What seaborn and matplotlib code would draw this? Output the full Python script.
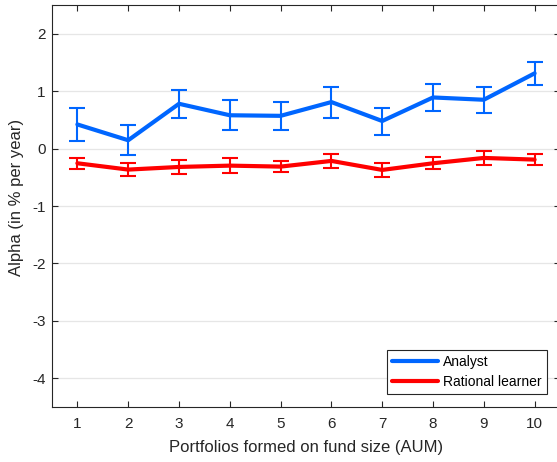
import matplotlib
matplotlib.use("Agg")
import matplotlib.pyplot as plt
import seaborn as sns
import pandas as pd

portfolios = [1, 2, 3, 4, 5, 6, 7, 8, 9, 10]
analyst = [0.42, 0.145, 0.78, 0.58, 0.57, 0.81, 0.48, 0.89, 0.85, 1.31]
analyst_err = [0.28, 0.265, 0.24, 0.26, 0.24, 0.27, 0.235, 0.235, 0.23, 0.195]
rational = [-0.256, -0.366, -0.32, -0.297, -0.314, -0.215, -0.372, -0.256, -0.163, -0.192]
rational_err = [0.093, 0.11, 0.115, 0.125, 0.09, 0.115, 0.12, 0.107, 0.128, 0.10]
yticks = [-4, -3, -2, -1, 0, 1, 2]

sns.set_theme(style="white")
plt.rcParams['font.family'] = ['Liberation Sans', 'DejaVu Sans']

blue = "#0066FF"
red = "#FF0000"
spine_c = "#262626"

fig = plt.figure(figsize=(5.57, 4.62), dpi=100)
ax = fig.add_axes([52/557, 55/462, 508/557, 402/462])

df = pd.DataFrame({
    "x": portfolios * 2,
    "y": analyst + rational,
    "series": ["Analyst"] * 10 + ["Rational learner"] * 10,
})
sns.lineplot(data=df, x="x", y="y", hue="series", palette=[blue, red],
             linewidth=3, ax=ax, legend=True)
ax.errorbar(portfolios, analyst, yerr=analyst_err, fmt="none", ecolor=blue,
            elinewidth=1.5, capsize=5.5, capthick=1.5, zorder=3)
ax.errorbar(portfolios, rational, yerr=rational_err, fmt="none", ecolor=red,
            elinewidth=1.5, capsize=5.5, capthick=1.5, zorder=3)

ax.set_xlim(0.5, 10.5)
ax.set_ylim(-4.5, 2.5)
ax.set_xticks(portfolios)
ax.set_yticks(yticks)
ax.set_xticklabels([str(p) for p in portfolios])
ax.set_yticklabels([str(t) for t in yticks])
ax.yaxis.grid(True, color="#E6E6E6", linewidth=0.9)
ax.set_axisbelow(True)
for s in ax.spines.values():
    s.set_color(spine_c)
    s.set_linewidth(0.8)
ax.tick_params(direction="in", length=4, width=0.8, color=spine_c,
               labelcolor=spine_c, labelsize=11, top=True, right=True,
               bottom=True, left=True)
ax.tick_params(axis="x", pad=7.5)
ax.tick_params(axis="y", pad=4.5)
ax.set_xlabel("Portfolios formed on fund size (AUM)", fontsize=12, color=spine_c, labelpad=6)
ax.set_ylabel("Alpha (in % per year)", fontsize=12, color=spine_c)
ax.yaxis.set_label_coords(-0.056, 0.521)

leg = ax.legend(loc="lower right", frameon=True, fancybox=False, framealpha=1,
                edgecolor=spine_c, fontsize=10, handlelength=3.3,
                borderpad=0.35, labelspacing=0.42, handletextpad=0.36,
                borderaxespad=0.97)
leg.get_frame().set_linewidth(0.8)
for t in leg.get_texts():
    t.set_color("black")

fig.savefig("out.png", dpi=100)
